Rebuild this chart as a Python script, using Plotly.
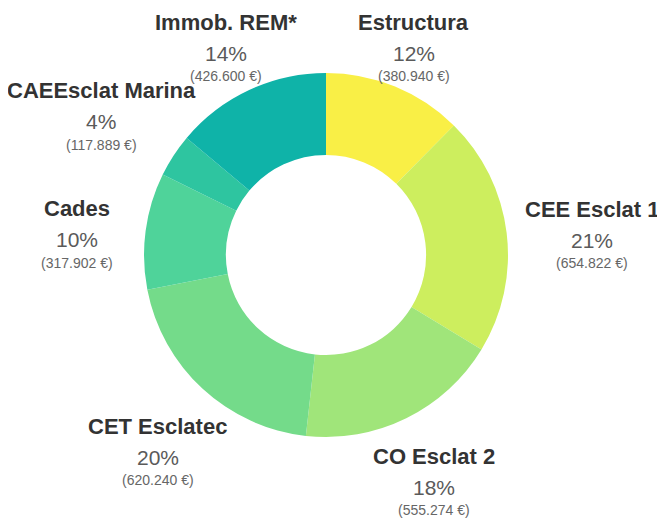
import math
import plotly.graph_objects as go

labels = ["Estructura", "CEE Esclat 1", "CO Esclat 2", "CET Esclatec", "Cades", "CAEEsclat Marina", "Immob. REM*"]
values = [380940, 654822, 555274, 620240, 317902, 117889, 426600]
colors = ["#f9ef46", "#cdee5e", "#a0e57a", "#74db8a", "#4fd39a", "#2ec5a0", "#0fb3a8"]

# layout details for the outside labels (pixel nudges from radial placement)
label_r = 260
label_nudge = [(-11, 39), (8, 17), (-7, -1), (8, 11), (9, 19), (-7, 9), (10, 34)]

W, H = 665, 521
cx, cy, R = 318, 247, 182   # page coords of donut centre and radius

fig = go.Figure(go.Pie(
    labels=labels,
    values=values,
    sort=False,
    direction="clockwise",
    rotation=0,
    hole=0.55,
    marker=dict(colors=colors, line=dict(width=0)),
    textinfo="none",
    hoverinfo="label+percent+value",
    domain=dict(x=[(cx - R) / W, (cx + R) / W], y=[1 - (cy + R) / H, 1 - (cy - R) / H]),
    showlegend=False,
))

total = sum(values)
font = "Liberation Sans, Arial, sans-serif"
cum = 0.0
annotations = []
for lab, v, (nx, ny) in zip(labels, values, label_nudge):
    frac = v / total
    mid = (cum + frac / 2) * 2 * math.pi
    cum += frac
    px = cx + label_r * math.sin(mid) + nx
    py = cy - label_r * math.cos(mid) + ny
    pct = f"{round(frac * 100):d}%"
    amt = "(" + f"{v:,.0f}".replace(",", ".") + " €)"
    for txt, dy, size, color in [
        (f"<b>{lab}</b>", -31, 22, "#333333"),
        (pct, 0, 21, "#5a5a5a"),
        (amt, 23, 14, "#666666"),
    ]:
        annotations.append(dict(
            x=px / W, y=1 - (py + dy) / H, xref="paper", yref="paper",
            text=txt, showarrow=False, xanchor="center", yanchor="middle",
            font=dict(family=font, size=size, color=color),
        ))

fig.update_layout(
    width=W, height=H,
    margin=dict(l=0, r=0, t=0, b=0),
    paper_bgcolor="white",
    plot_bgcolor="white",
    annotations=annotations,
)

fig.write_html("out.html")
